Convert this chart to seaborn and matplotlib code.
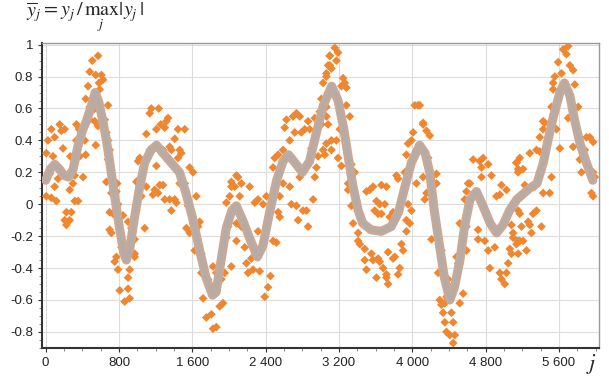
import matplotlib
matplotlib.use("Agg")
import matplotlib.pyplot as plt
from matplotlib.ticker import MultipleLocator, FuncFormatter
import pandas as pd
import seaborn as sns

# smooth (normalised) curve
curve_j = [0, 50, 100, 150, 200, 250, 300, 350, 400, 450, 500, 540, 580, 620, 660, 700, 750, 800, 850, 880,
           920, 970, 1020, 1080, 1150, 1210, 1280, 1370, 1460, 1530, 1600, 1680, 1750, 1820, 1860, 1900, 1970,
           2030, 2080, 2150, 2230, 2310, 2370, 2440, 2520, 2590, 2650, 2720, 2800, 2880, 2950, 3030, 3120, 3190,
           3250, 3300, 3350, 3410, 3460, 3550, 3660, 3770, 3850, 3920, 3990, 4080, 4140, 4190, 4240, 4300, 4350,
           4410, 4460, 4520, 4570, 4630, 4700, 4770, 4850, 4920, 4990, 5060, 5140, 5280, 5360, 5430, 5480, 5540,
           5610, 5660, 5720, 5770, 5830, 5900, 5970]
curve_y = [0.15, 0.22, 0.25, 0.22, 0.18, 0.17, 0.22, 0.36, 0.46, 0.53, 0.62, 0.70, 0.64, 0.53, 0.41, 0.26, 0.06,
           -0.13, -0.30, -0.35, -0.27, -0.08, 0.09, 0.26, 0.34, 0.37, 0.32, 0.26, 0.20, 0.07, -0.08, -0.29, -0.46,
           -0.57, -0.55, -0.40, -0.15, -0.04, -0.01, -0.10, -0.22, -0.33, -0.26, -0.06, 0.15, 0.27, 0.31, 0.26,
           0.20, 0.27, 0.44, 0.62, 0.74, 0.65, 0.48, 0.30, 0.12, -0.04, -0.12, -0.16, -0.17, -0.14, -0.05, 0.11,
           0.26, 0.37, 0.32, 0.20, -0.04, -0.27, -0.46, -0.60, -0.52, -0.35, -0.14, 0.03, 0.08, -0.01, -0.12,
           -0.18, -0.13, -0.04, 0.03, 0.10, 0.13, 0.26, 0.40, 0.55, 0.70, 0.76, 0.68, 0.53, 0.38, 0.26, 0.15]

# noisy samples (orange diamonds)
noisy_j = [7, 62, 25, 98, 153, 207, 171, 7, 62, 116, 98, 189, 80, 226, 280, 207, 226, 262, 317, 353, 262, 298,
           269, 317, 335, 335, 364, 408, 437, 426, 437, 462, 480, 509, 571, 546, 608, 626, 589, 582, 517, 480, 535,
           571, 546, 680, 644, 662, 698, 680, 662, 753, 779, 771, 698, 735, 789, 844, 899, 698, 717, 771, 753, 789,
           808, 899, 899, 862, 917, 971, 971, 935, 990, 1008, 480, 680, 717, 826, 917, 371, 135, 44,
           1026, 1008, 989, 971, 1080, 1044, 1098, 1098, 1135, 1153, 1233, 1208, 1255, 1299, 1335, 1317, 1444,
           1517, 1408, 1353, 1462, 1480, 1444, 1371, 1208, 1244, 1280, 1189, 1171, 1226, 1299, 1353, 1371, 1408,
           1426, 1462, 1571, 1608, 1644, 1553, 1535, 1571, 1626, 1662, 1680, 1699, 1717, 1753, 1808, 1826, 1862,
           1899, 1935, 1917, 1953, 1971, 1990, 1971, 2008, 2026, 1826, 1862, 1699, 1135, 1280, 1517, 1771, 1608,
           2026, 2063, 2081, 2099, 2135, 2117, 2226, 2281, 2317, 2372, 2408, 2317, 2081, 2135, 2172, 2081, 2026,
           2190, 2244, 2208, 2263, 2335, 2390, 2426, 2452, 2481, 2517, 2481, 2499, 2536, 2590, 2608, 2627, 2663,
           2699, 2736, 2772, 2790, 2717, 2827, 2863, 2881, 2899, 2936, 2990, 3008, 3027, 2972, 2918, 2936, 2954,
           2772, 2681, 2736, 2754, 2808, 2845, 2863, 2663, 2590, 2554, 2536, 2554, 3008, 3027, 3063, 3081, 3099,
           3063, 3063,
           3063, 3100, 3100, 3118, 3154, 3172, 3190, 3063, 3081, 3045, 3118, 3118, 3190, 3227, 3172, 3209, 3245,
           3263, 3281, 3227, 3281, 3318, 3336, 3372, 3300, 3300, 3336, 3354, 3409, 3427, 3409, 3481, 3481, 3500,
           3554, 3572, 3627, 3645, 3609, 3718, 3718, 3736, 3682, 3736, 3790, 3809, 3845, 3863, 3882, 3900, 3500,
           3536, 3572, 3663, 3718, 3609, 3645, 3700, 3590, 3627, 3663, 3754, 3790, 3827, 3845, 3918, 3936, 3954,
           3991, 4009, 4027, 4063, 4045, 3991, 3973, 3936, 3936, 3954, 4118,
           4082, 4118, 4155, 4191, 4173, 4118, 4155, 4136, 4227, 4264, 4264, 4209, 4300, 4318, 4282, 4300, 4318,
           4355, 4336, 4355, 4373, 4409, 4446, 4464, 4427, 4446, 4373, 4391, 4482, 4518, 4500, 4518, 4555, 4573,
           4591, 4609, 4628, 4664, 4736, 4773, 4755, 4755, 4828, 4864, 4718, 4718, 4791, 4828, 4846, 4900, 4918,
           4955, 4973, 5028, 4955, 4973, 5009, 5028, 5046, 5064, 5100, 5155, 5082, 5137, 5155, 4591, 4591,
           5100, 5082, 5155, 5137, 5173, 5209, 5246, 5191, 5155, 5173, 5264, 5282, 5318, 5355, 5300, 5409, 5137,
           5173, 5155, 5209, 5228, 5282, 5355, 5391, 5336, 5428, 5500, 5519, 5391, 5428, 5428, 5446, 5500, 5537,
           5573, 5610, 5519, 5537, 5555, 5591, 5628, 5646, 5700, 5682, 5719, 5755, 5773, 5700, 5755, 5810, 5828,
           5901, 5937, 5973, 5828, 5846, 5882, 5973, 5991, 5955, 5973, 5537]
noisy_y = [0.32, 0.47, 0.40, 0.42, 0.50, 0.47, 0.46, 0.05, 0.04, 0.02, 0.11, 0.35, 0.30, -0.05, -0.05, -0.10,
           -0.13, -0.10, 0.02, 0.02, 0.09, 0.13, 0.30, 0.18, 0.40, 0.50, 0.47, 0.17, 0.31, 0.40, 0.66, 0.74, 0.83,
           0.90, 0.93, 0.81, 0.81, 0.78, 0.72, 0.76, 0.59, 0.53, 0.52, 0.49, 0.37, 0.62, 0.53, 0.45, 0.34, 0.28,
           0.14, 0.14, 0.13, 0.08, -0.05, -0.06, 0.00, -0.07, -0.11, -0.16, -0.18, -0.33, -0.36, -0.41, -0.54,
           -0.46, -0.53, -0.61, -0.59, -0.33, -0.22, -0.15, 0.14, 0.27, 0.61, 0.40, 0.07, -0.27, -0.41, 0.30,
           0.16, 0.19,
           0.29, 0.15, -0.04, -0.31, -0.15, 0.05, 0.11, 0.44, 0.57, 0.60, 0.60, 0.47, 0.50, 0.48, 0.54, 0.52,
           0.47, 0.47, 0.41, 0.36, 0.34, 0.32, 0.29, 0.34, 0.24, 0.12, 0.12, 0.09, 0.06, 0.07, 0.03, 0.03, -0.04,
           0.03, 0.01, 0.13, 0.23, 0.20, 0.05, -0.01, -0.15, -0.18, -0.29, -0.14, -0.11, -0.43, -0.59, -0.71,
           -0.69, -0.78, -0.77, -0.64, -0.62, -0.47, -0.43, -0.21, -0.14, 0.01, 0.05, 0.11, -0.39, -0.43, -0.31,
           0.34, 0.34, 0.13, -0.47, -0.12,
           0.14, 0.11, 0.18, 0.17, 0.13, 0.05, 0.11, 0.01, 0.03, 0.00, 0.05, -0.17, -0.12, -0.14, -0.27, -0.23,
           -0.39, -0.37, -0.34, -0.43, -0.41, -0.42, -0.58, -0.52, -0.45, -0.23, -0.24, 0.23, 0.29, 0.31, 0.34,
           0.48, 0.53, 0.40, 0.55, 0.57, 0.55, 0.45, 0.45, 0.47, 0.52, 0.47, 0.35, 0.54, 0.58, 0.50, 0.34, 0.30,
           0.03, 0.17, 0.23, 0.17, 0.00, -0.01, -0.10, -0.04, -0.04, -0.14, 0.11, 0.13, 0.05, -0.05, -0.08, 0.66,
           0.76, 0.82, 0.87, 0.93, 0.38, 0.55,
           0.80, 0.93, 0.87, 0.85, 0.98, 0.90, 0.95, 0.61, 0.50, 0.31, 0.40, 0.34, 0.29, 0.24, 0.40, 0.47, 0.79,
           0.76, 0.73, 0.74, 0.62, 0.55, 0.25, 0.20, 0.13, 0.09, -0.01, -0.12, -0.18, -0.25, -0.23, -0.28, -0.35,
           -0.41, -0.31, -0.35, -0.34, -0.36, -0.46, -0.44, -0.46, -0.50, -0.40, -0.30, -0.34, -0.33, -0.44,
           -0.40, -0.25, -0.29, 0.08, 0.09, 0.11, 0.12, 0.11, 0.02, 0.00, 0.00, -0.04, -0.06, -0.06, -0.08,
           -0.05, 0.18, 0.16, 0.20, 0.31, 0.38, 0.40, 0.45, 0.62, 0.62, 0.13, -0.04, -0.12, -0.10, -0.17, 0.00,
           0.51,
           0.62, 0.50, 0.46, 0.43, 0.29, 0.17, 0.07, 0.03, 0.18, 0.19, 0.13, -0.22, -0.27, -0.29, -0.43, -0.60,
           -0.63, -0.62, -0.68, -0.74, -0.80, -0.82, -0.87, -0.82, -0.68, -0.74, -0.58, -0.47, -0.33, -0.12,
           -0.37, -0.62, -0.56, 0.03, 0.08, 0.13, 0.13, 0.28, 0.27, 0.29, 0.23, 0.17, 0.25, 0.18, -0.16, -0.22,
           -0.23, -0.29, -0.40, -0.27, 0.05, 0.06, 0.12, 0.09, -0.43, -0.47, -0.50, -0.43, -0.37, -0.28, -0.21,
           -0.23, -0.13, 0.26, 0.22, -0.14, -0.29,
           -0.18, -0.31, -0.31, -0.25, -0.23, -0.23, -0.29, -0.14, -0.04, -0.06, -0.11, -0.13, -0.06, -0.04,
           -0.18, -0.14, 0.26, 0.29, 0.20, 0.22, 0.12, 0.32, 0.34, 0.33, 0.11, 0.07, 0.07, 0.17, 0.42, 0.47, 0.52,
           0.51, 0.51, 0.48, 0.47, 0.35, 0.61, 0.72, 0.80, 0.89, 0.82, 0.97, 0.99, 0.94, 0.87, 0.84, 0.75, 0.54,
           0.36, 0.61, 0.40, 0.42, 0.42, 0.39, 0.28, 0.20, 0.34, 0.20, 0.17, 0.07, 0.05, 0.76]

xticks = [0, 800, 1600, 2400, 3200, 4000, 4800, 5600]
yticks = [-0.8, -0.6, -0.4, -0.2, 0, 0.2, 0.4, 0.6, 0.8, 1]

noisy = pd.DataFrame({"j": noisy_j, "y": noisy_y})
curve = pd.DataFrame({"j": curve_j, "y": curve_y})

sns.set_style("white")
plt.rcParams["font.family"] = ["Liberation Sans", "DejaVu Sans"]
plt.rcParams["mathtext.fontset"] = "stix"

fig = plt.figure(figsize=(6.09, 3.81), dpi=100)
ax = fig.add_axes([0.069, 0.087, 0.915, 0.80])

sns.scatterplot(data=noisy, x="j", y="y", ax=ax, marker="D", s=20, color="#ef8630",
                edgecolor="none", zorder=3)
sns.lineplot(data=curve, x="j", y="y", ax=ax, color="#c6a998", linewidth=6.5, zorder=4,
             solid_capstyle="round")
sns.lineplot(data=curve, x="j", y="y", ax=ax, color="#b5aca7", linewidth=2.5, zorder=5)

ax.set_xlim(-40, 6040)
ax.set_ylim(-0.9, 1.01)
ax.set_xticks(xticks)
ax.set_yticks(yticks)
ax.xaxis.set_minor_locator(MultipleLocator(200))
ax.yaxis.set_minor_locator(MultipleLocator(0.05))
ax.xaxis.set_major_formatter(FuncFormatter(lambda v, p: f"{v:,.0f}".replace(",", " ")))
ax.yaxis.set_major_formatter(FuncFormatter(lambda v, p: f"{v:g}"))
ax.grid(True, which="major", color="#dcdcdc", linewidth=0.8)
ax.set_axisbelow(True)
ax.tick_params(axis="both", which="major", labelsize=9.5, length=3, direction="out",
               left=True, bottom=True, colors="#333333", labelcolor="#222222")
ax.tick_params(axis="both", which="minor", length=2, direction="out", left=True, bottom=True,
               colors="#777777")
ax.set_xlabel("")
ax.set_ylabel("")

for side in ["left", "bottom"]:
    ax.spines[side].set_color("#333333")
    ax.spines[side].set_linewidth(1.5)
for side in ["top", "right"]:
    ax.spines[side].set_color("#999999")
    ax.spines[side].set_linewidth(1.0)

fig.text(0.042, 0.952, r"$\overline{y}_j = y_j\,/\,\max_j|y_j|$", fontsize=14.5, ha="left", va="center")
fig.text(0.972, 0.045, r"$j$", fontsize=16, ha="center", va="center")

fig.savefig("out.png", dpi=100)
